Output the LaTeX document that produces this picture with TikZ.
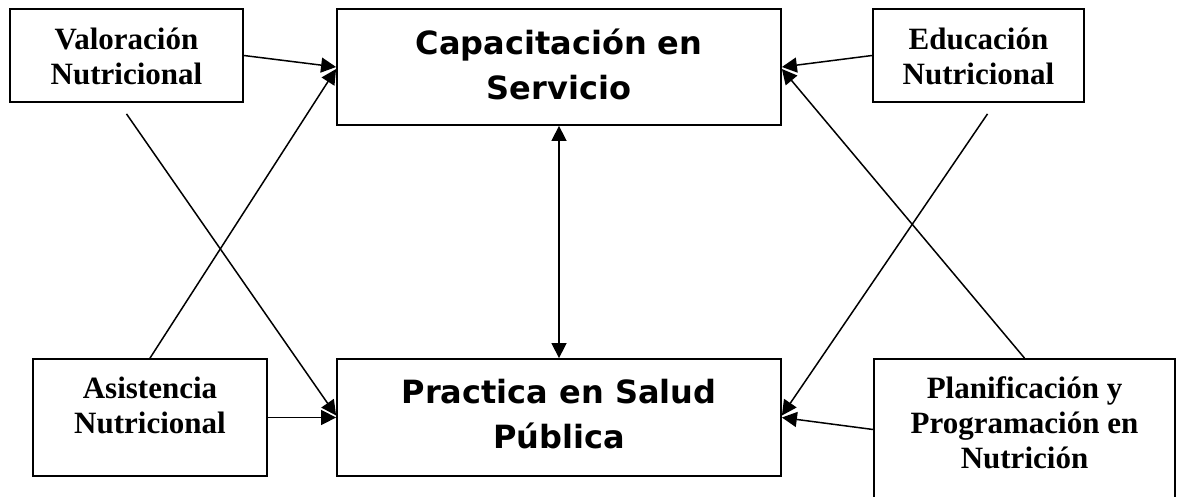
\documentclass[tikz,border=0pt]{standalone}
\usepackage{fontspec}
\setmainfont{Liberation Serif}
\newfontfamily\bigsans{DejaVu Sans}
\usetikzlibrary{arrows.meta}

\tikzset{
  box/.style={draw, line width=1.8pt, inner sep=0pt, align=center},
  small/.style={box, font=\fontsize{31}{35}\selectfont\bfseries},
  big/.style={box, font=\bigsans\fontsize{32}{45}\selectfont\bfseries},
  link/.style={line width=1.5pt, -{Triangle[length=15pt,width=15pt]}}
}

\begin{document}
\begin{tikzpicture}[x=1pt, y=-1pt]

\clip (0,0) rectangle (1177,497);

% Central boxes
\node[big, minimum width=444pt, minimum height=116pt, text height=74pt, text depth=8pt]
  (cap) at (559,67) {Capacitación en\\Servicio};
\node[big, minimum width=444pt, minimum height=117pt, text height=69pt, text depth=8pt]
  (prac) at (559,417.5) {Practica en Salud\\Pública};

% Left boxes
\node[small, minimum width=233pt, minimum height=93pt, text height=65pt, text depth=6pt]
  (val) at (126.5,55.5) {Valoración\\Nutricional};
\node[small, minimum width=234pt, minimum height=117pt, text height=65pt, text depth=34pt]
  (asi) at (150,417.5) {Asistencia\\Nutricional};

% Right boxes
\node[small, minimum width=211pt, minimum height=93pt, text height=65pt, text depth=6pt]
  (edu) at (978.5,55.5) {Educación\\Nutricional};
\node[small, minimum width=301pt, minimum height=141pt, text height=102pt, text depth=25pt]
  (plan) at (1024.5,429.5) {Planificación y\\Programación en\\Nutrición};

% Straight arrows
\draw[link] (val.east) -- (cap.west);
\draw[link] (asi.east) -- (prac.west);
\draw[link] (edu.west) -- (cap.east);
\draw[link] (plan.west) -- (prac.east);

% Crossing arrows
\draw[link] (asi.north) -- ([yshift=-2pt]cap.west);
\draw[link] ([yshift=-11pt]val.south) -- ([yshift=2pt]prac.west);
\draw[link] (plan.north) -- ([yshift=-2pt]cap.east);
\draw[link] ([xshift=9pt,yshift=-11pt]edu.south) -- ([yshift=2pt]prac.east);

% Two way link
\draw[link, {Triangle[length=15pt,width=15pt]}-{Triangle[length=15pt,width=15pt]}] (cap.south) -- (prac.north);

\end{tikzpicture}
\end{document}
